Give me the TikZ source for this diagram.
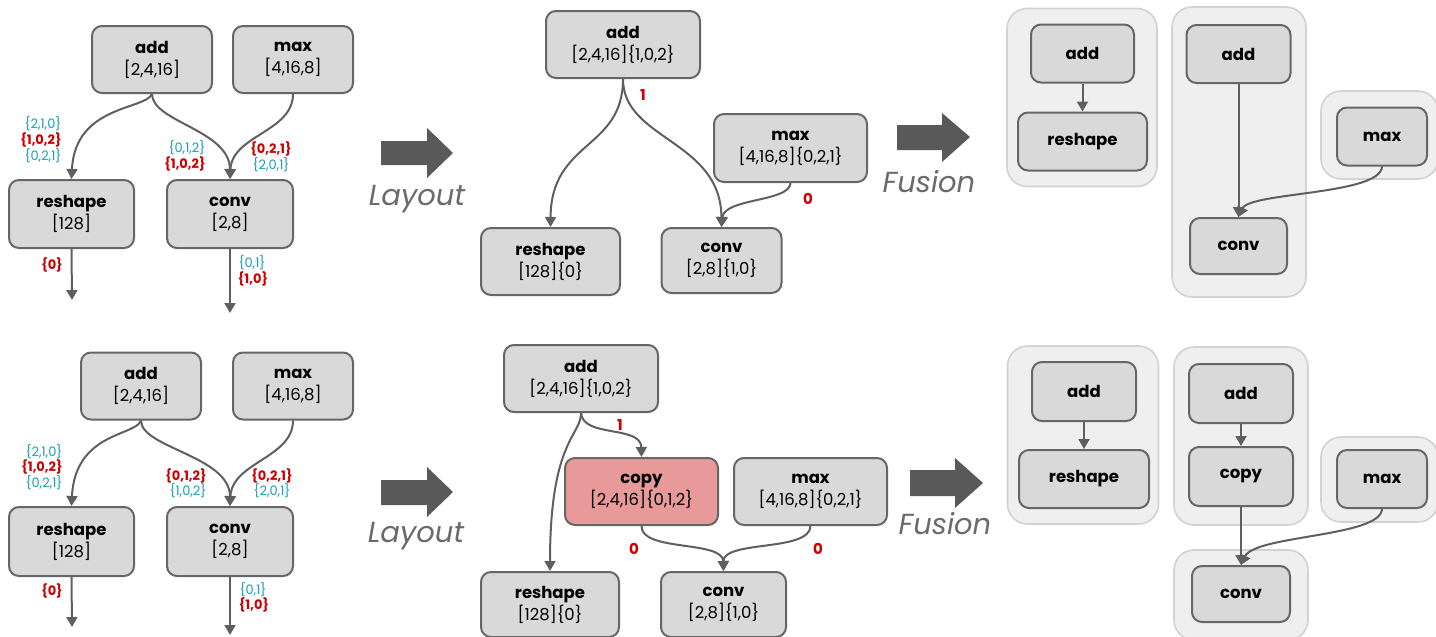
\documentclass[tikz,border=0pt]{standalone}
\usepackage{fontspec}
\setmainfont{Poppins}
\usetikzlibrary{arrows.meta}

\definecolor{nodefill}{HTML}{D9D9D9}
\definecolor{nodeline}{HTML}{666666}
\definecolor{edgecol}{HTML}{5F5F5F}
\definecolor{clusterfill}{HTML}{EFEFEF}
\definecolor{clusterline}{HTML}{D2D2D2}
\definecolor{copyfill}{HTML}{E89A9A}
\definecolor{tealtxt}{HTML}{1A9FB2}
\definecolor{redtxt}{HTML}{CC0000}
\definecolor{bigarrow}{HTML}{595959}
\definecolor{captxt}{HTML}{6A6A6A}

\newcommand\opfont{\fontsize{16.5}{22}\selectfont}
\newcommand\labfont{\fontsize{13}{15}\selectfont}
\newcommand\capfont{\fontsize{29}{32}\selectfont\itshape}
\newcommand\optext[2]{\textbf{#1}\\{}#2}

\tikzset{
  opnode/.style 2 args={draw=nodeline, line width=2pt, fill=nodefill,
    rounded corners=10pt, minimum width=#1pt, minimum height=#2pt,
    inner sep=0pt, align=center, font=\opfont},
  copynode/.style={fill=copyfill},
  cluster/.style 2 args={draw=clusterline, line width=1.6pt, fill=clusterfill,
    rounded corners=20pt, minimum width=#1pt, minimum height=#2pt, inner sep=0pt},
  link/.style={draw=edgecol, line width=2pt, -{Triangle[length=10pt,width=11pt]}},
  teal/.style={text=tealtxt, font=\labfont, inner sep=0pt},
  red/.style={text=redtxt, font=\labfont\bfseries, inner sep=0pt},
  port/.style={text=redtxt, font=\fontsize{15}{17}\selectfont\bfseries, inner sep=0pt},
  caption/.style={text=captxt, font=\capfont, inner sep=0pt},
}

\begin{document}
\begin{tikzpicture}[x=1pt,y=-1pt]
\path[use as bounding box] (0,0) rectangle (1436,637);

% ---------- upper row: input graph ----------
\node[opnode={120}{67}] (add1) at (152,59.5) {\optext{add}{[2,4,16]}};
\node[opnode={120}{67}] (max1) at (293,59.5) {\optext{max}{[4,16,8]}};
\node[opnode={125}{68}] (resh1) at (71.5,214) {\optext{reshape}{[128]}};
\node[opnode={126}{68}] (conv1) at (230,214) {\optext{conv}{[2,8]}};
\coordinate (out1) at (72,300);
\coordinate (out2) at (230,313);

\draw[link] (add1.south) .. controls (145,110) and (75,105) .. (resh1.north);
\draw[link] (add1.south) .. controls (152,122) and (230,130) .. (conv1.north);
\draw[link] (max1.south) .. controls (293,132) and (232,135) .. (conv1.north);
\draw[link] (resh1.south) -- (out1);
\draw[link] (conv1.south) -- (out2);

\node[teal] (l1a) at (43,124) {\{2,1,0\}};
\node[red]  (l1b) at (41,140) {\{1,0,2\}};
\node[teal] (l1c) at (43,156) {\{0,2,1\}};
\node[teal] (l1d) at (187,148) {\{0,1,2\}};
\node[red]  (l1e) at (185,164) {\{1,0,2\}};
\node[red]  (l1f) at (271,149) {\{0,2,1\}};
\node[teal] (l1g) at (271,165) {\{2,0,1\}};
\node[red]  (l1h) at (52,265) {\{0\}};
\node[teal] (l1i) at (252,263) {\{0,1\}};
\node[red]  (l1j) at (253,279) {\{1,0\}};

% ---------- lower row: input graph ----------
\node[opnode={120}{67}] (add2) at (141,386) {\optext{add}{[2,4,16]}};
\node[opnode={120}{67}] (max2) at (293,386) {\optext{max}{[4,16,8]}};
\node[opnode={125}{69}] (resh2) at (71.5,541.5) {\optext{reshape}{[128]}};
\node[opnode={126}{69}] (conv2) at (230,541.5) {\optext{conv}{[2,8]}};
\coordinate (out3) at (72,627);
\coordinate (out4) at (230,635);

\draw[link] (add2.south) .. controls (136,436) and (75,432) .. (resh2.north);
\draw[link] (add2.south) .. controls (141,448) and (230,456) .. (conv2.north);
\draw[link] (max2.south) .. controls (293,458) and (232,462) .. (conv2.north);
\draw[link] (resh2.south) -- (out3);
\draw[link] (conv2.south) -- (out4);

\node[teal] (l2a) at (44,452) {\{2,1,0\}};
\node[red]  (l2b) at (42,467) {\{1,0,2\}};
\node[teal] (l2c) at (44,483) {\{0,2,1\}};
\node[red]  (l2d) at (186,476) {\{0,1,2\}};
\node[teal] (l2e) at (188,491) {\{1,0,2\}};
\node[red]  (l2f) at (272,476) {\{0,2,1\}};
\node[teal] (l2g) at (272,491) {\{2,0,1\}};
\node[red]  (l2h) at (52,591) {\{0\}};
\node[teal] (l2i) at (253,590) {\{0,1\}};
\node[red]  (l2j) at (254,605) {\{1,0\}};

% ---------- step arrows ----------
\fill[bigarrow] (381,141) -- (427,141) -- (427,128) -- (453,153) -- (427,178) -- (427,165) -- (381,165) -- cycle;
\node[caption] (lay1) at (417,199) {Layout};
\fill[bigarrow] (381,480) -- (427,480) -- (427,467) -- (453,492) -- (427,517) -- (427,505) -- (381,505) -- cycle;
\node[caption] (lay2) at (416,536) {Layout};

\fill[bigarrow] (897,125) -- (942,125) -- (942,113) -- (970,137) -- (942,162) -- (942,150) -- (897,150) -- cycle;
\node[caption] (fus1) at (929,182) {Fusion};
\fill[bigarrow] (910,470) -- (955,470) -- (955,458) -- (983,483) -- (955,508) -- (955,496) -- (910,496) -- cycle;
\node[caption] (fus2) at (945,524) {Fusion};

% ---------- upper row: after layout assignment ----------
\node[opnode={154}{67}] (add3) at (623,44.5) {\optext{add}{[2,4,16]\{1,0,2\}}};
\node[opnode={153}{68}] (max3) at (790.5,148) {\optext{max}{[4,16,8]\{0,2,1\}}};
\node[opnode={139}{67}] (resh3) at (550.5,261.5) {\optext{reshape}{[128]\{0\}}};
\node[opnode={120}{65}] (conv3) at (721.5,260.5) {\optext{conv}{[2,8]\{1,0\}}};

\draw[link] (add3.south) .. controls (623,150) and (551,140) .. (resh3.north);
\draw[link] (add3.south) .. controls (623,140) and (721,140) .. (conv3.north);
\draw[link] (max3.south) .. controls (790,202) and (724,198) .. (conv3.north);
\node[port] (p3a) at (643,95) {1};
\node[port] (p3b) at (808,199) {0};

% ---------- lower row: after layout assignment ----------
\node[opnode={154}{67}] (add4) at (581,378.5) {\optext{add}{[2,4,16]\{1,0,2\}}};
\node[opnode={153}{67}, copynode] (copy4) at (641.5,491.5) {\optext{copy}{[2,4,16]\{0,1,2\}}};
\node[opnode={153}{67}] (max4) at (810.5,491.5) {\optext{max}{[4,16,8]\{0,2,1\}}};
\node[opnode={138}{65}] (resh4) at (550,604.5) {\optext{reshape}{[128]\{0\}}};
\node[opnode={125}{65}] (conv4) at (723.5,604.5) {\optext{conv}{[2,8]\{1,0\}}};

\draw[link] (add4.south) .. controls (581,436) and (550,440) .. (resh4.north);
\draw[link] (add4.south) .. controls (583,438) and (641,425) .. (copy4.north);
\draw[link] (copy4.south) .. controls (641,552) and (723,540) .. (conv4.north);
\draw[link] (max4.south) .. controls (810,552) and (723,540) .. (conv4.north);
\node[port] (p4a) at (620,425) {1};
\node[port] (p4b) at (634,549) {0};
\node[port] (p4c) at (818,549) {0};

% ---------- upper row: fused computations ----------
\node[cluster={150}{178}] (cl1) at (1082,97.5) {};
\node[cluster={134}{290}] (cl2) at (1239,152) {};
\node[cluster={117}{88}] (cl3) at (1379.5,135) {};
\node[opnode={103}{58}] (fadd1) at (1082.5,53.5) {\textbf{add}};
\node[opnode={129}{58}] (fresh1) at (1082.5,141.5) {\textbf{reshape}};
\node[opnode={104}{58}] (fadd2) at (1238.5,54) {\textbf{add}};
\node[opnode={97}{56}] (fconv1) at (1238.5,246) {\textbf{conv}};
\node[opnode={90}{58}] (fmax1) at (1382,136.5) {\textbf{max}};

\draw[link] (fadd1.south) -- (fresh1.north);
\draw[link] (fadd2.south) -- (fconv1.north);
\draw[link] (fmax1.south) .. controls (1381,195) and (1250,192) .. (fconv1.north);

% ---------- lower row: fused computations ----------
\node[cluster={151}{178}] (cl4) at (1083,435) {};
\node[cluster={134}{178}] (cl5) at (1241,436) {};
\node[cluster={117}{85}] (cl6) at (1379.5,479.5) {};
\node[cluster={134}{90}] (cl7) at (1241,595) {};
\node[opnode={104}{59}] (fadd3) at (1084,391.5) {\textbf{add}};
\node[opnode={130}{58}] (fresh2) at (1084,479) {\textbf{reshape}};
\node[opnode={104}{59}] (fadd4) at (1241,393.5) {\textbf{add}};
\node[opnode={104}{59}] (fcopy) at (1241,476.5) {\textbf{copy}};
\node[opnode={90}{58}] (fmax2) at (1382,479) {\textbf{max}};
\node[opnode={98}{56}] (fconv2) at (1241,594) {\textbf{conv}};

\draw[link] (fadd3.south) -- (fresh2.north);
\draw[link] (fadd4.south) -- (fcopy.north);
\draw[link] (fcopy.south) -- (fconv2.north);
\draw[link] (fmax2.south) .. controls (1381,537) and (1255,535) .. (fconv2.north);
\end{tikzpicture}
\end{document}
